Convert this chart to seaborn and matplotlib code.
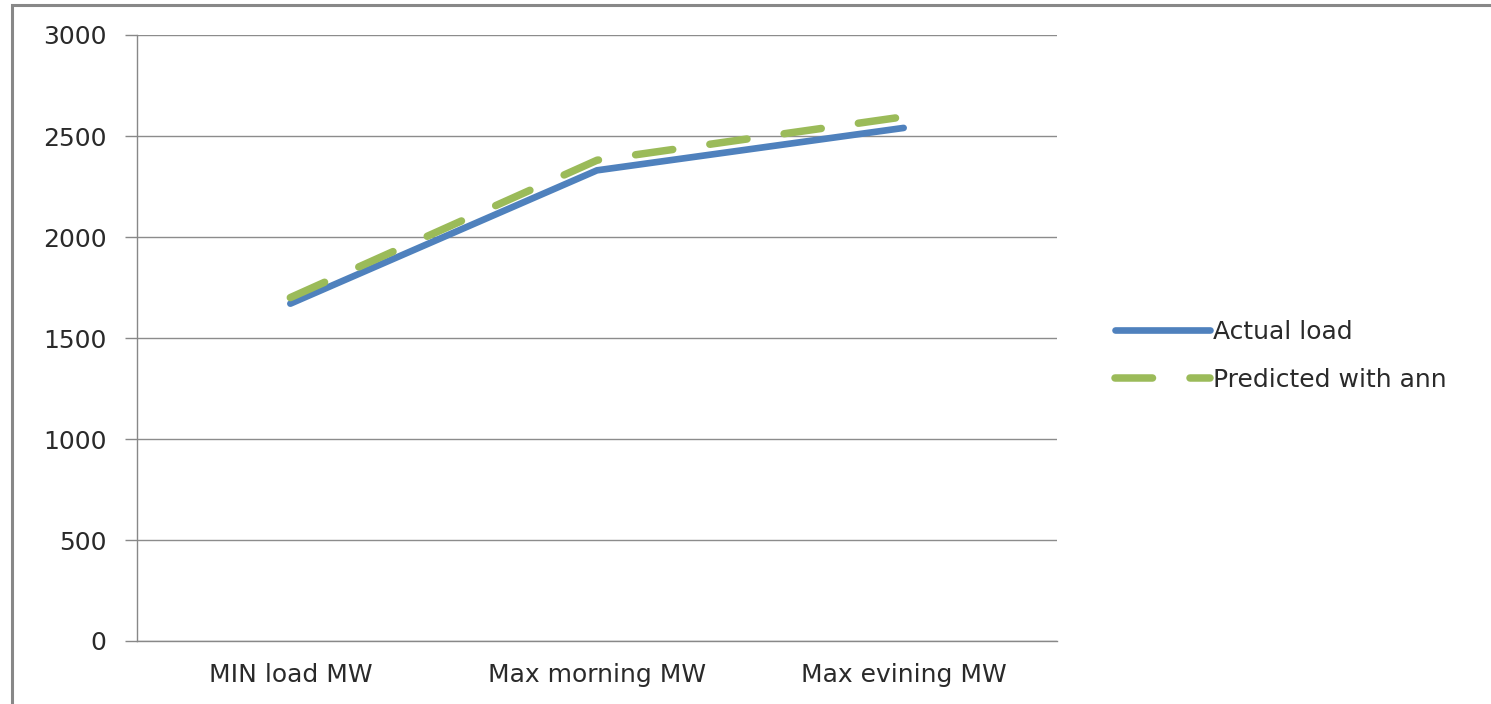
import matplotlib
matplotlib.use('Agg')
import matplotlib.pyplot as plt
from matplotlib.patches import Rectangle
import seaborn as sns
import pandas as pd

# values
categories = ["MIN load MW", "Max morning MW", "Max evining MW"]
actual_load = [1670, 2330, 2540]
predicted_ann = [1700, 2380, 2595]
series_names = ["Actual load", "Predicted with ann"]
y_ticks = [0, 500, 1000, 1500, 2000, 2500, 3000]

df = pd.DataFrame({
    'category': categories * 2,
    'load': actual_load + predicted_ann,
    'series': [series_names[0]] * 3 + [series_names[1]] * 3,
})

sns.set_style('white')
plt.rcParams['font.family'] = ['DejaVu Sans']

fig = plt.figure(figsize=(14.91, 7.04), dpi=100)
ax = fig.add_axes([137 / 1491, 1 - 641 / 704, 920 / 1491, 606 / 704])

sns.lineplot(data=df, x='category', y='load', hue='series', style='series',
             palette={series_names[0]: '#4F81BD', series_names[1]: '#9BBB59'},
             dashes={series_names[0]: '', series_names[1]: (5, 5)},
             sort=False, legend=False, ax=ax)

ax.lines[0].set_linewidth(4.8)
ax.lines[1].set_linewidth(5.4)
for ln in ax.lines[:2]:
    ln.set_solid_capstyle('round')
    ln.set_dash_capstyle('round')
ax.lines[1].set_zorder(3)

ax.set_xlim(-0.5, 2.5)
ax.set_ylim(0, 3000)
ax.set_yticks(y_ticks)
ax.set_xticks([0, 1, 2])
ax.set_xticklabels(categories)
ax.set_xticks([-0.5, 0.5, 1.5, 2.5], minor=True)
ax.tick_params(axis='x', which='major', length=0, pad=16, labelsize=18, labelcolor='#2a2a2a')
ax.tick_params(axis='x', which='minor', length=8, width=1, color='#888888', direction='out')
ax.tick_params(axis='y', length=9, width=1, color='#888888', pad=13, labelsize=18,
               labelcolor='#2a2a2a', left=True)
ax.set_xlabel('')
ax.set_ylabel('')
ax.yaxis.grid(True, color='#8c8c8c', lw=1)
for s in ['top', 'right']:
    ax.spines[s].set_visible(False)
for s in ['left', 'bottom']:
    ax.spines[s].set_color('#888888')
    ax.spines[s].set_linewidth(1)

fig.legend(handles=ax.lines[:2], labels=series_names, loc='center left',
           bbox_to_anchor=(1092 / 1491, 1 - 356 / 704), frameon=False,
           fontsize=18, handlelength=3.8, handletextpad=0.15, labelspacing=0.95,
           labelcolor='#2a2a2a')

# outer frame of the original picture
fig.patches.append(Rectangle((12 / 1491, -0.05), 2, 1 - 5 / 704 + 0.05,
                             transform=fig.transFigure, fill=False,
                             edgecolor='#888888', lw=2.2))

fig.savefig('out.png', dpi=100)
